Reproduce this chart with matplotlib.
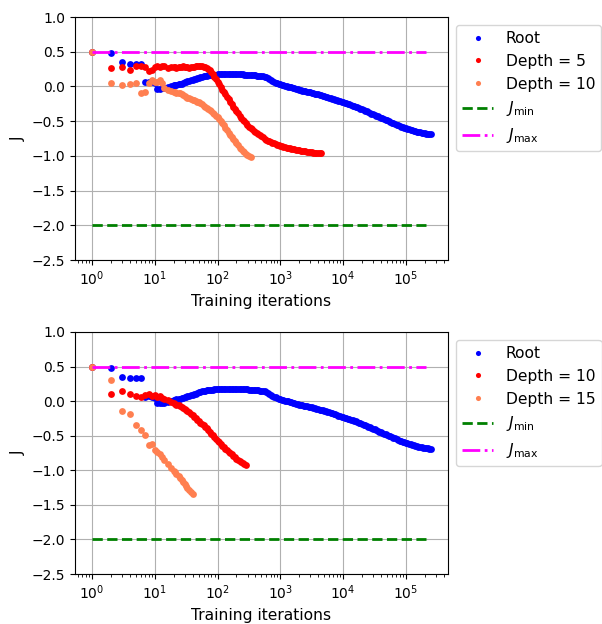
#!/usr/bin/env python3
"""
Objective J vs training iterations for root and deeper nodes (two panels).
"""

import matplotlib
matplotlib.use('Agg')
import matplotlib.pyplot as plt

# Iteration grid: every early iteration, then ~40 samples per decade
ITERS = [1, 2, 3, 4, 5, 6, 7, 8, 9, 10, 11, 12, 13, 14, 16, 18,
         20, 21, 22, 24, 25, 27, 28, 30, 32, 33,
         35, 38, 40, 42, 45, 47, 50, 53, 56, 60,
         63, 67, 71, 75, 79, 84, 89, 94,
         100, 106, 112, 119, 126, 133, 141, 150, 158, 168,
         178, 188, 200, 211, 224, 237, 251, 266, 282, 299,
         316, 335, 355, 376, 398, 422, 447, 473, 501, 531,
         562, 596, 631, 668, 708, 750, 794, 841, 891, 944,
         1000, 1059, 1122, 1189, 1259, 1334, 1413, 1496, 1585, 1679,
         1778, 1884, 1995, 2113, 2239, 2371, 2512, 2661, 2818, 2985,
         3162, 3350, 3548, 3758, 3981, 4217, 4467, 4732, 5012, 5309,
         5623, 5957, 6310, 6683, 7079, 7499, 7943, 8414, 8913, 9441,
         10000, 10593, 11220, 11885, 12589, 13335, 14125, 14962, 15849, 16788,
         17783, 18836, 19953, 21135, 22387, 23714, 25119, 26607, 28184, 29854,
         31623, 33497, 35481, 37584, 39811, 42170, 44668, 47315, 50119, 53088,
         56234, 59566, 63096, 66834, 70795, 74989, 79433, 84140, 89125, 94406,
         100000, 105925, 112202, 118850, 125893, 133352, 141254, 149624, 158489, 167880,
         177828, 188365, 199526, 211349, 223872, 237137, 251189]

# Root (same curve in both panels)
j_root = [0.50, 0.48, 0.355, 0.33, 0.33, 0.33, 0.06, 0.07, 0.06, 0.05, -0.03, -0.03, -0.025, -0.02, -0.01, 0.005,
          0.015, 0.02, 0.025, 0.03, 0.035, 0.042, 0.05, 0.057, 0.065, 0.072,
          0.08, 0.088, 0.095, 0.102, 0.11, 0.118, 0.125, 0.132, 0.14, 0.145,
          0.15, 0.155, 0.16, 0.163, 0.165, 0.168, 0.17, 0.171,
          0.172, 0.173, 0.175, 0.175, 0.175, 0.176, 0.176, 0.176, 0.176, 0.176,
          0.176, 0.175, 0.175, 0.175, 0.174, 0.173, 0.172, 0.171, 0.170, 0.169,
          0.167, 0.165, 0.163, 0.161, 0.159, 0.157, 0.154, 0.151, 0.148, 0.146,
          0.143, 0.133, 0.120, 0.105, 0.090, 0.077, 0.066, 0.055, 0.046, 0.038,
          0.030, 0.022, 0.015, 0.007, 0.000, -0.005, -0.010, -0.015, -0.020, -0.028,
          -0.035, -0.043, -0.050, -0.055, -0.060, -0.065, -0.070, -0.075, -0.080, -0.085,
          -0.090, -0.096, -0.103, -0.109, -0.115, -0.121, -0.128, -0.134, -0.140, -0.148,
          -0.155, -0.163, -0.170, -0.178, -0.185, -0.193, -0.200, -0.208, -0.215, -0.223,
          -0.230, -0.237, -0.245, -0.252, -0.260, -0.268, -0.276, -0.284, -0.292, -0.300,
          -0.310, -0.320, -0.330, -0.340, -0.350, -0.360, -0.370, -0.380, -0.390, -0.400,
          -0.410, -0.420, -0.430, -0.440, -0.450, -0.460, -0.470, -0.480, -0.490, -0.500,
          -0.510, -0.520, -0.530, -0.540, -0.550, -0.560, -0.570, -0.578, -0.586, -0.594,
          -0.600, -0.608, -0.615, -0.623, -0.630, -0.638, -0.645, -0.652, -0.658, -0.663,
          -0.668, -0.672, -0.676, -0.680, -0.684, -0.687, -0.690]

# Top panel
j_top_depth5 = [0.50, 0.26, 0.28, 0.24, 0.29, 0.30, 0.28, 0.22, 0.24, 0.28, 0.29, 0.28, 0.30, 0.29, 0.27, 0.28,
                0.28, 0.275, 0.27, 0.275, 0.28, 0.285, 0.29, 0.285, 0.28, 0.275,
                0.27, 0.275, 0.28, 0.285, 0.29, 0.295, 0.30, 0.30, 0.29, 0.285,
                0.28, 0.265, 0.25, 0.23, 0.21, 0.18, 0.14, 0.105,
                0.07, 0.03, -0.01, -0.045, -0.08, -0.115, -0.15, -0.185, -0.22, -0.255,
                -0.29, -0.32, -0.35, -0.385, -0.42, -0.45, -0.48, -0.505, -0.53, -0.555,
                -0.58, -0.60, -0.62, -0.64, -0.66, -0.675, -0.69, -0.705, -0.72, -0.735,
                -0.75, -0.765, -0.78, -0.79, -0.80, -0.81, -0.82, -0.83, -0.84, -0.848,
                -0.855, -0.862, -0.87, -0.875, -0.88, -0.885, -0.89, -0.895, -0.90, -0.905,
                -0.91, -0.915, -0.92, -0.925, -0.93, -0.932, -0.935, -0.938, -0.94, -0.945,
                -0.95, -0.952, -0.955, -0.957, -0.96, -0.962, -0.965]
j_top_depth10 = [0.50, 0.05, 0.02, 0.03, 0.05, -0.10, -0.08, 0.05, 0.09, 0.07, 0.06, 0.09, 0.05, -0.02, -0.05, -0.07,
                 -0.08, -0.085, -0.09, -0.095, -0.10, -0.11, -0.12, -0.135, -0.15, -0.16,
                 -0.17, -0.18, -0.19, -0.20, -0.21, -0.22, -0.23, -0.245, -0.26, -0.275,
                 -0.29, -0.305, -0.32, -0.34, -0.36, -0.38, -0.40, -0.42,
                 -0.44, -0.47, -0.50, -0.53, -0.56, -0.595, -0.63, -0.665, -0.70, -0.73,
                 -0.76, -0.79, -0.82, -0.85, -0.88, -0.905, -0.93, -0.95, -0.97, -0.985,
                 -1.00, -1.02]

# Bottom panel
j_bot_depth10 = [0.50, 0.11, 0.145, 0.11, 0.08, 0.06, 0.09, 0.10, 0.08, 0.09, 0.06, 0.07, 0.05, 0.03, 0.01, -0.01,
                 -0.03, -0.04, -0.05, -0.06, -0.07, -0.085, -0.10, -0.115, -0.13, -0.145,
                 -0.16, -0.18, -0.20, -0.225, -0.25, -0.27, -0.29, -0.31, -0.33, -0.35,
                 -0.37, -0.395, -0.42, -0.445, -0.47, -0.495, -0.52, -0.545,
                 -0.57, -0.595, -0.62, -0.645, -0.67, -0.69, -0.71, -0.73, -0.75, -0.77,
                 -0.79, -0.81, -0.83, -0.85, -0.87, -0.885, -0.90, -0.915, -0.93]
j_bot_depth15 = [0.50, 0.30, -0.14, -0.19, -0.34, -0.42, -0.49, -0.63, -0.62, -0.70, -0.73, -0.77, -0.81, -0.85, -0.91, -0.97,
                 -1.01, -1.03, -1.05, -1.08, -1.11, -1.14, -1.17, -1.20, -1.23, -1.255,
                 -1.28, -1.315, -1.35]

J_MIN = -2.0
J_MAX = 0.5
bound_iters = [1, 210000]

PANELS = [
    (j_top_depth5, 'Depth = 5', j_top_depth10, 'Depth = 10'),
    (j_bot_depth10, 'Depth = 10', j_bot_depth15, 'Depth = 15'),
]


def draw_panel(ax, j_a, label_a, j_b, label_b):
    ms = 4.9
    ax.plot(ITERS[:len(j_root)], j_root, 'o', color='blue', ms=ms, mew=0, label='Root')
    ax.plot(ITERS[:len(j_a)], j_a, 'o', color='red', ms=ms, mew=0, label=label_a)
    ax.plot(ITERS[:len(j_b)], j_b, 'o', color='coral', ms=ms, mew=0, label=label_b)
    ax.plot(bound_iters, [J_MIN, J_MIN], '--', color='green', lw=2, label=r'$J_{\min}$')
    ax.plot(bound_iters, [J_MAX, J_MAX], '-.', color='magenta', lw=2, label=r'$J_{\max}$')
    ax.set_xscale('log')
    ax.set_ylim(-2.5, 1.0)
    ax.set_yticks([-2.5, -2.0, -1.5, -1.0, -0.5, 0.0, 0.5, 1.0])
    ax.set_xlabel('Training iterations', fontsize=11.2)
    ax.set_ylabel('J', fontsize=11.2)
    ax.tick_params(labelsize=10)
    ax.grid(True)
    ax.legend(loc='upper left', bbox_to_anchor=(1.0, 1.0), fontsize=11.2,
              numpoints=1, markerscale=0.75)


def main():
    assert len(j_root) == len(ITERS), (len(j_root), len(ITERS))
    fig = plt.figure(figsize=(6.02, 6.24), dpi=100)
    W, H = 602.0, 624.0
    ax1 = fig.add_axes([75 / W, 1 - 260 / H, 373 / W, 243 / H])
    ax2 = fig.add_axes([75 / W, 1 - 574 / H, 373 / W, 242 / H])
    for ax, (j_a, la, j_b, lb) in zip([ax1, ax2], PANELS):
        draw_panel(ax, j_a, la, j_b, lb)
    fig.savefig('out.png', dpi=100)


if __name__ == '__main__':
    main()
